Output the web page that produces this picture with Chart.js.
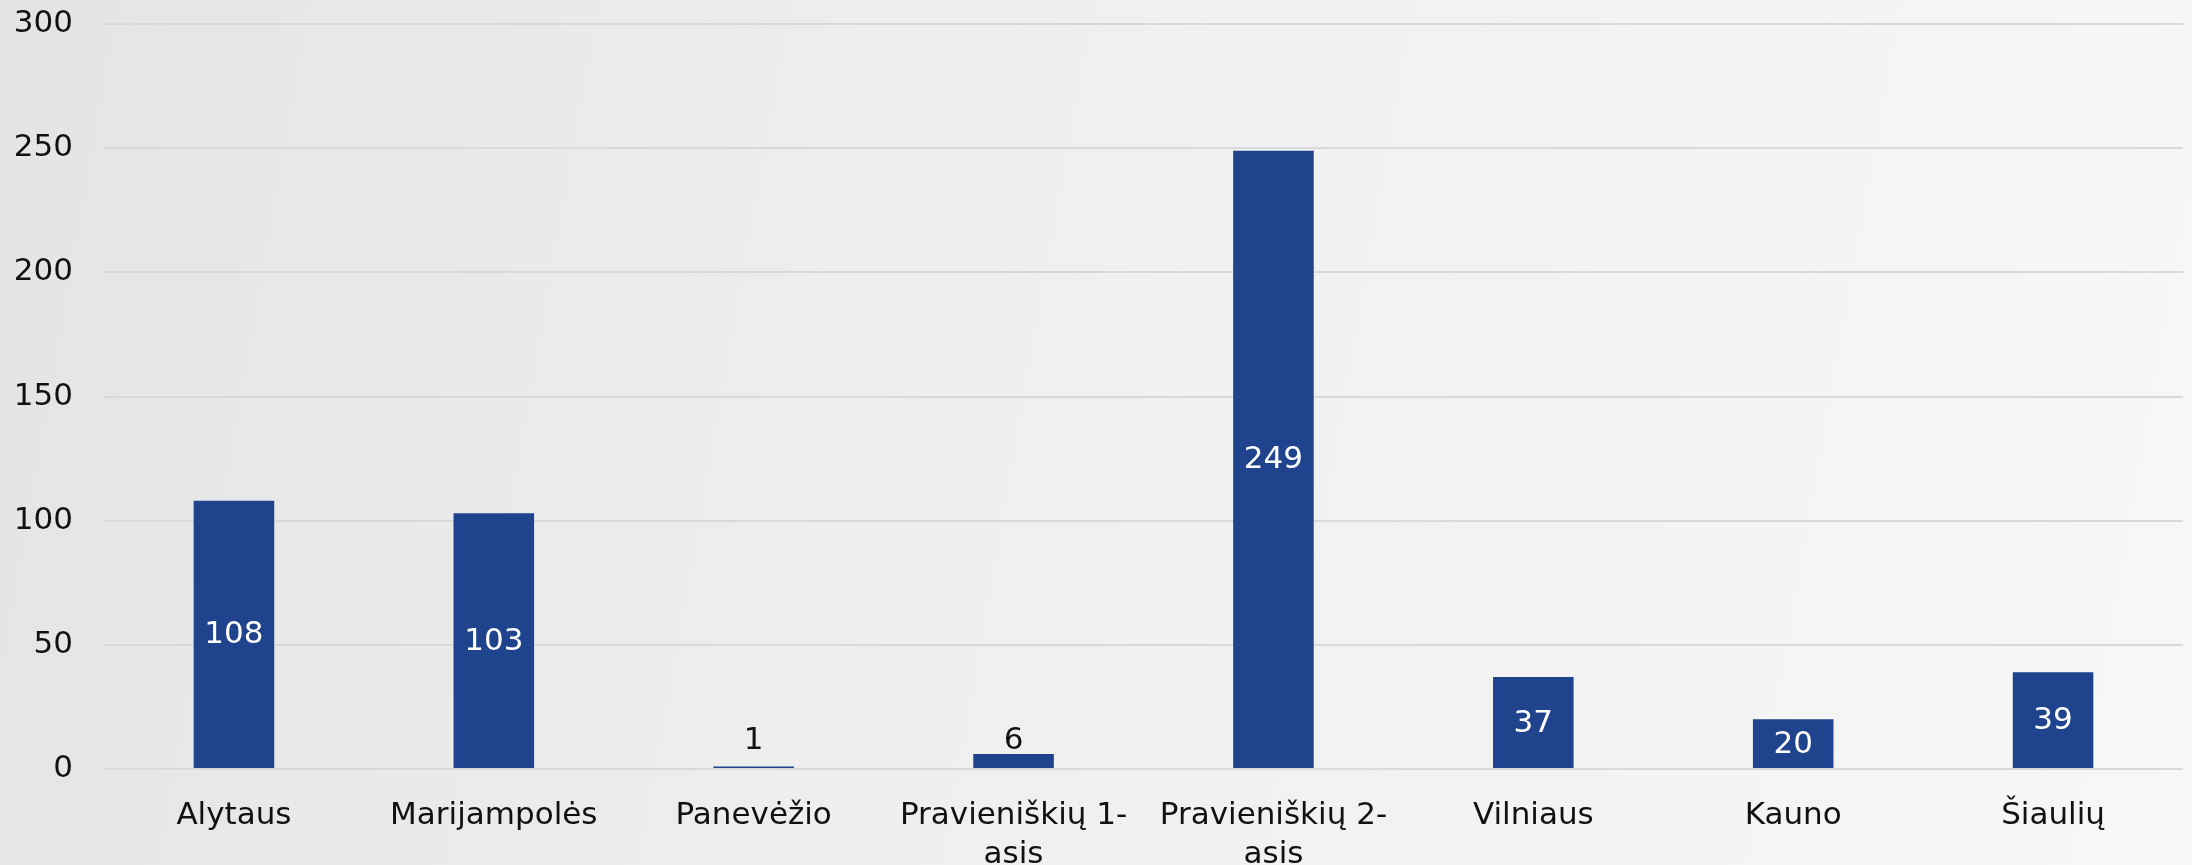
<!DOCTYPE html>
<html>
<head>
<meta charset="utf-8">
<script src="https://cdn.jsdelivr.net/npm/chart.js@4/dist/chart.umd.min.js"></script>
<style>
    html, body {
        margin: 0;
        padding: 0;
    }
    body {
        width: 2192px;
        height: 865px;
        background: linear-gradient(100deg, #e4e4e4 0%, #efefef 45%, #f7f7f7 100%);
        overflow: hidden;
    }
    #chartBox {
        width: 2192px;
        height: 865px;
        position: relative;
    }
</style>
</head>
<body>
<div id="chartBox"><canvas id="prisonChart"></canvas></div>
<script>
// categories (multi-line where the label wraps)
const categories = [
    'Alytaus',
    'Marijampolės',
    'Panevėžio',
    ['Pravieniškių 1-', 'asis'],
    ['Pravieniškių 2-', 'asis'],
    'Vilniaus',
    'Kauno',
    'Šiaulių'
];

// values per category
const values = [108, 103, 1, 6, 249, 37, 20, 39];

// y axis ticks
const yMin = 0;
const yMax = 300;
const yStep = 50;

const barColor = '#1f438d';
const fontFamily = '"DejaVu Sans", sans-serif';

// draws the value labels: inside the bar when it is tall enough, above it otherwise
const valueLabels = {
    id: 'valueLabels',
    afterDatasetsDraw(chart) {
        const ctx = chart.ctx;
        const meta = chart.getDatasetMeta(0);
        ctx.save();
        ctx.font = '31px ' + fontFamily;
        ctx.textAlign = 'center';
        meta.data.forEach(function (bar, i) {
            const value = chart.data.datasets[0].data[i];
            const height = bar.base - bar.y;
            if (height > 40) {
                ctx.fillStyle = '#ffffff';
                ctx.textBaseline = 'middle';
                ctx.fillText(String(value), bar.x, (bar.y + bar.base) / 2 + 1);
            } else {
                ctx.fillStyle = '#111111';
                ctx.textBaseline = 'alphabetic';
                ctx.fillText(String(value), bar.x, Math.min(bar.y - 4, bar.base - 19));
            }
        });
        ctx.restore();
    }
};

const data = {
    labels: categories,
    datasets: [{
        label: 'Values',
        data: values,
        backgroundColor: barColor,
        borderWidth: 0,
        categoryPercentage: 1,
        barPercentage: 0.31
    }]
};

const config = {
    type: 'bar',
    data: data,
    plugins: [valueLabels],
    options: {
        responsive: true,
        maintainAspectRatio: false,
        animation: false,
        layout: {
            padding: { top: 24, right: 9, bottom: 0, left: 0 }
        },
        plugins: {
            legend: { display: false },
            tooltip: { enabled: false }
        },
        scales: {
            x: {
                grid: { display: false, drawTicks: false },
                border: { display: false },
                ticks: {
                    color: '#111111',
                    font: { family: fontFamily, size: 31, lineHeight: 1.25 },
                    padding: 28,
                    maxRotation: 0,
                    autoSkip: false
                },
                afterFit: function (scale) {
                    scale.height = 96;
                    scale.paddingLeft = 0;
                    scale.paddingRight = 0;
                }
            },
            y: {
                min: yMin,
                max: yMax,
                grid: {
                    color: '#d9d9d9',
                    lineWidth: 2,
                    drawTicks: false
                },
                border: { display: false },
                ticks: {
                    stepSize: yStep,
                    color: '#111111',
                    font: { family: fontFamily, size: 31 },
                    padding: 31
                },
                afterFit: function (scale) {
                    scale.width = 104;
                    scale.paddingTop = 0;
                    scale.paddingBottom = 0;
                }
            }
        }
    }
};

const prisonChart = new Chart(document.getElementById('prisonChart'), config);
</script>
</body>
</html>
